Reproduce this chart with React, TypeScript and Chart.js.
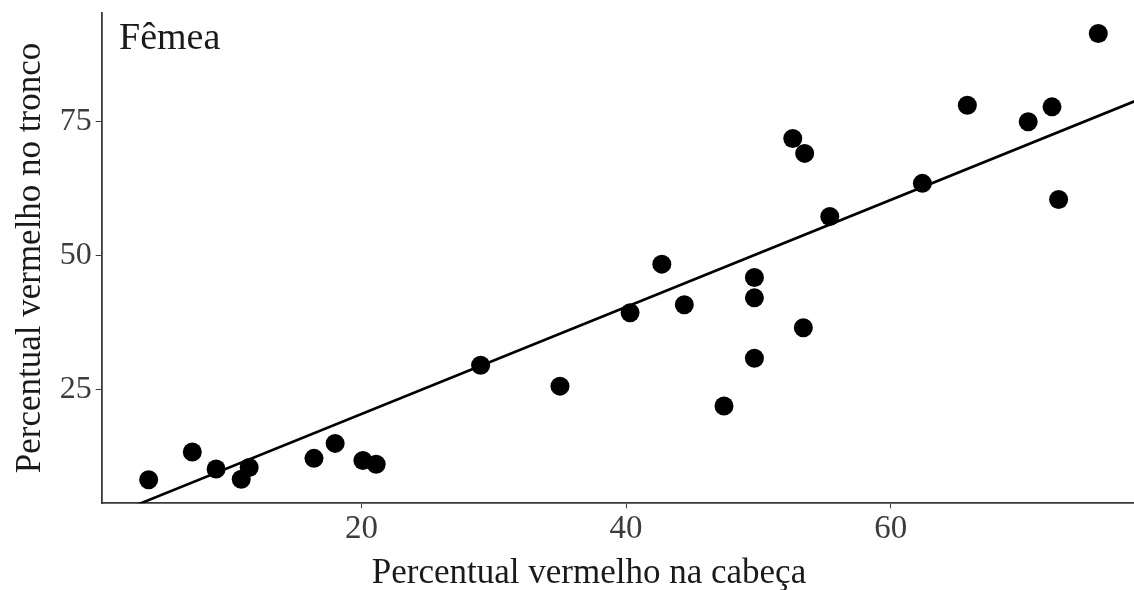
import React, { useEffect, useRef } from "react";
import { Chart, registerables } from "chart.js";

Chart.register(...registerables);

// Percent red on the head (x) and on the trunk (y) for each female
const xHead = [3.9, 7.2, 9.0, 10.9, 11.5, 16.4, 18.0, 20.1, 21.1, 29.0, 35.0, 40.3, 42.7, 44.4, 47.4, 49.7, 49.7, 49.7, 53.4, 52.6, 53.5, 55.4, 62.4, 65.8, 70.4, 72.2, 72.7, 75.7];
const yTrunk = [8.1, 13.3, 10.1, 8.2, 10.4, 12.1, 14.9, 11.7, 11.0, 29.5, 25.6, 39.3, 48.4, 40.8, 21.9, 45.9, 42.1, 30.8, 36.5, 71.9, 69.1, 57.3, 63.5, 78.1, 75.0, 77.8, 60.5, 91.5];

// Fitted linear trend
const fitIntercept = 0.4;
const fitSlope = 1.0;
const fitRange = [0, 80];

const xTicks = [20, 40, 60];
const yTicks = [25, 50, 75];

const panelLabel = "Fêmea";
const xTitle = "Percentual vermelho na cabeça";
const yTitle = "Percentual vermelho no tronco";

const SERIF = '"Liberation Serif", "Times New Roman", serif';
const AXIS = "#3a3a3a";
const TEXT = "#1a1a1a";

export default function App() {
  const canvasRef = useRef<HTMLCanvasElement | null>(null);

  useEffect(() => {
    document.body.style.margin = "0";
    const canvas = canvasRef.current;
    if (!canvas) return;

    const points = xHead.map((x, i) => ({ x, y: yTrunk[i] }));
    const fitLine = fitRange.map((x) => ({ x, y: fitIntercept + fitSlope * x }));

    // Panel label and both axis titles
    const textPlugin = {
      id: "panelText",
      afterDraw(chart: any) {
        const { ctx, chartArea } = chart;
        ctx.save();
        ctx.fillStyle = TEXT;
        ctx.textBaseline = "alphabetic";

        ctx.font = `38px ${SERIF}`;
        ctx.textAlign = "left";
        ctx.fillText(panelLabel, 119, 49);

        ctx.font = `35px ${SERIF}`;
        ctx.textAlign = "center";
        ctx.fillText(xTitle, 589, 583);

        ctx.translate(39.5, (chartArea.top + chartArea.bottom) / 2);
        ctx.rotate(-Math.PI / 2);
        ctx.fillText(yTitle, 0, 0);
        ctx.restore();
      },
    };

    const chart = new Chart(canvas, {
      type: "scatter",
      data: {
        datasets: [
          {
            label: "pontos",
            data: points,
            backgroundColor: "#000000",
            borderWidth: 0,
            pointRadius: 9.5,
            pointHoverRadius: 9.5,
          },
          {
            type: "line",
            label: "ajuste",
            data: fitLine,
            borderColor: "#000000",
            borderWidth: 2.6,
            pointRadius: 0,
            showLine: true,
            fill: false,
          } as any,
        ],
      },
      options: {
        animation: false,
        responsive: false,
        layout: { autoPadding: false, padding: { top: 12.7, right: 0, left: 0, bottom: 0 } },
        plugins: {
          legend: { display: false },
          tooltip: { enabled: false },
        },
        scales: {
          x: {
            type: "linear",
            min: 0.35,
            max: 78.4,
            afterBuildTicks: (scale: any) => {
              scale.ticks = xTicks.map((value) => ({ value }));
            },
            afterFit: (scale: any) => {
              scale.height = 86.7;
              scale.paddingLeft = 0;
              scale.paddingRight = 0;
            },
            grid: {
              drawOnChartArea: false,
              drawTicks: true,
              tickLength: 5,
              color: AXIS,
              lineWidth: 1,
            },
            border: { display: true, color: AXIS, width: 1.8 },
            ticks: {
              color: "#3c3c3c",
              font: { family: SERIF, size: 33 },
              padding: 1,
              maxRotation: 0,
            },
          },
          y: {
            type: "linear",
            min: 3.7,
            max: 95.4,
            afterBuildTicks: (scale: any) => {
              scale.ticks = yTicks.map((value) => ({ value }));
            },
            afterFit: (scale: any) => {
              scale.width = 101.7;
              scale.paddingTop = 0;
              scale.paddingBottom = 0;
            },
            grid: {
              drawOnChartArea: false,
              drawTicks: true,
              tickLength: 6,
              color: AXIS,
              lineWidth: 1,
            },
            border: { display: true, color: AXIS, width: 1.8 },
            ticks: {
              color: "#3c3c3c",
              font: { family: SERIF, size: 32 },
              padding: 4,
            },
          },
        },
      },
      plugins: [textPlugin],
    });

    return () => chart.destroy();
  }, []);

  return (
    <div style={{ width: 1134, height: 590, background: "#ffffff" }}>
      <canvas ref={canvasRef} width={1134} height={590} style={{ display: "block" }} />
    </div>
  );
}
